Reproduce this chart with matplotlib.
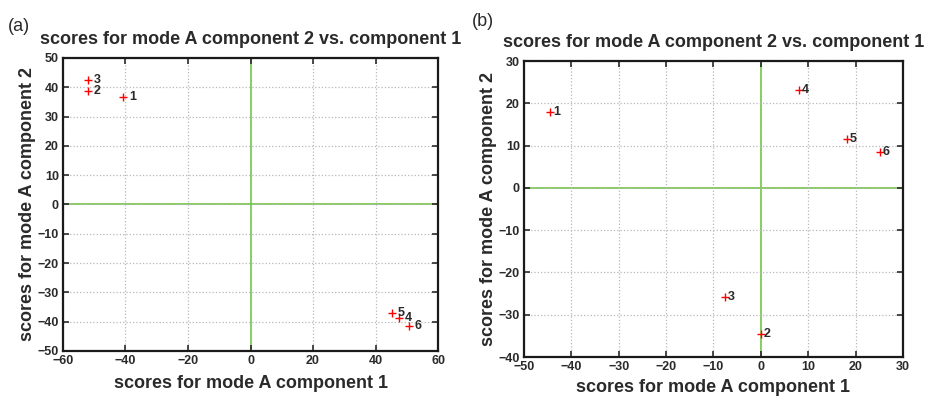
import matplotlib

matplotlib.use("Agg")
import matplotlib.pyplot as plt

plt.rcParams["font.family"] = ["Liberation Sans", "DejaVu Sans"]
plt.rcParams["font.weight"] = "bold"

# --- data ---
labels_a = ["1", "2", "3", "4", "5", "6"]
x_a = [-40.7, -51.9, -51.9, 47.5, 45.4, 50.8]
y_a = [36.6, 38.7, 42.4, -38.6, -36.9, -41.5]

labels_b = ["1", "2", "3", "4", "5", "6"]
x_b = [-44.4, 0.0, -7.6, 8.1, 18.1, 25.1]
y_b = [18.0, -34.5, -25.7, 23.1, 11.5, 8.5]

TITLE = "scores for mode A component 2 vs. component 1"
XLABEL = "scores for mode A component 1"
YLABEL = "scores for mode A component 2"
GREEN = "#62c032"
TXT = "#2a2a2a"


def draw(ax, xs, ys, labs, xlim, ylim, xticks, yticks, dx, xpad, ypad):
    ax.axhline(0, color=GREEN, lw=1.1, zorder=1)
    ax.axvline(0, color=GREEN, lw=1.1, zorder=1)
    ax.plot(xs, ys, "+", color="red", ms=6, mew=1.0, zorder=3)
    for x, y, t in zip(xs, ys, labs):
        ax.text(x + dx, y, t, fontsize=9, fontweight="bold", color=TXT,
                va="center", ha="left", zorder=4)
    ax.set_xlim(*xlim)
    ax.set_ylim(*ylim)
    ax.set_xticks(xticks)
    ax.set_yticks(yticks)
    ax.grid(True, color="#b8b8b8", ls=":", lw=0.9)
    ax.tick_params(direction="in", top=True, right=True, labelsize=9,
                   colors=TXT, length=4, width=1.2, pad=3)
    for s in ax.spines.values():
        s.set_linewidth(1.6)
        s.set_color("#1a1a1a")
    ax.set_title(TITLE, fontsize=13, fontweight="bold", color=TXT, pad=10)
    ax.set_xlabel(XLABEL, fontsize=13, fontweight="bold", color=TXT, labelpad=xpad)
    ax.set_ylabel(YLABEL, fontsize=13, fontweight="bold", color=TXT, labelpad=ypad)


fig = plt.figure(figsize=(9.29, 3.98), dpi=100)
ax1 = fig.add_axes([0.0678, 0.1181, 0.4037, 0.7362])
ax2 = fig.add_axes([0.564, 0.103, 0.408, 0.7437])

draw(ax1, x_a, y_a, labels_a, (-60, 60), (-50, 50),
     range(-60, 61, 20), range(-50, 51, 10), 1.8, 6, 1)
draw(ax2, x_b, y_b, labels_b, (-50, 30), (-40, 30),
     range(-50, 31, 10), range(-40, 31, 10), 0.6, 4, 1)

fig.text(0.008, 0.955, "(a)", fontsize=13, fontweight="normal", color=TXT, va="top")
fig.text(0.508, 0.968, "(b)", fontsize=13, fontweight="normal", color=TXT, va="top")

fig.savefig("out.png", dpi=100)
